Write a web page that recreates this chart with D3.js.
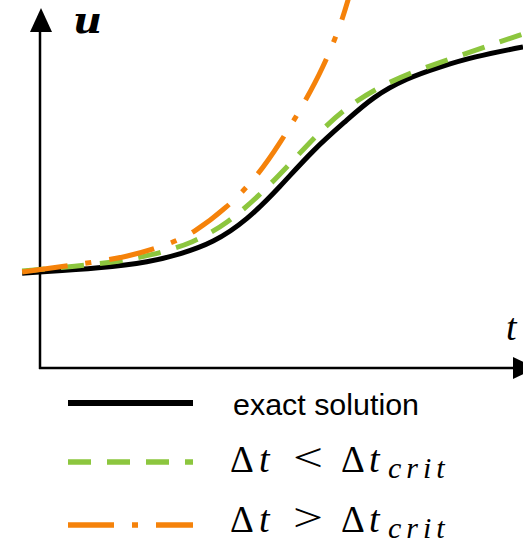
<!DOCTYPE html>
<html><head><meta charset="utf-8">
<script src="https://cdn.jsdelivr.net/npm/d3@7"></script>
<style>html,body{margin:0;padding:0;background:#fff;overflow:hidden}</style>
</head><body>
<script>
// Data (t, u)
const exactT = [-0.37, 0, 1.24, 2.28, 2.90, 3.58, 4.29, 4.97, 5.65, 6.36, 6.89, 7.60, 8.28, 8.96, 10.0];
const exactU = [2.65, 2.68, 2.79, 2.96, 3.18, 3.49, 4.13, 5.06, 6.09, 6.93, 7.57, 8.10, 8.41, 8.69, 8.97];
const stableT = [-0.37, 0.77, 1.59, 2.34, 3.17, 3.89, 4.55, 5.11, 5.73, 6.27, 7.00, 7.81, 8.55, 9.32, 10.0];
const stableU = [2.71, 2.85, 2.96, 3.16, 3.49, 4.05, 4.83, 5.61, 6.51, 7.21, 7.85, 8.32, 8.66, 9.02, 9.33];
const unstableT = [-0.37, 0.56, 1.86, 2.73, 3.17, 3.87, 4.49, 4.97, 5.45, 5.86, 6.21, 6.38, 6.55];
const unstableU = [2.68, 2.85, 3.10, 3.49, 3.77, 4.47, 5.34, 6.28, 7.35, 8.38, 9.53, 10.28, 11.1];
const legendLabels = ["exact solution", "Δt < Δt_crit", "Δt > Δt_crit"];

const W = 523, H = 545;
const svg = d3.select("body").append("svg").attr("width", W).attr("height", H);
const x = d3.scaleLinear().domain([0, 10]).range([40, 523]);
const y = d3.scaleLinear().domain([0, 10]).range([368, 10]);

const series = [
  {t: exactT, u: exactU, color: "#000000", dash: null, w: 5, lw: 6},
  {t: stableT, u: stableU, color: "#8cc63e", dash: "23 16", w: 5, lw: 5.5},
  {t: unstableT, u: unstableU, color: "#f5820a", dash: "46 18 6 18", w: 5, lw: 5.5}
];

// axes
const ax = svg.append("g");
ax.append("line").attr("x1", x(0)).attr("x2", x(0)).attr("y1", y(0) + 1).attr("y2", 30)
  .attr("stroke", "#000").attr("stroke-width", 2.5);
ax.append("path").attr("d", `M${x(0) + 1},8 L${x(0) - 10},32 L${x(0) + 12},32 Z`).attr("fill", "#000");
ax.append("line").attr("x1", x(0) - 1).attr("x2", 515).attr("y1", y(0)).attr("y2", y(0))
  .attr("stroke", "#000").attr("stroke-width", 2.5);
ax.append("path").attr("d", `M513,${y(0) - 11} L536,${y(0)} L513,${y(0) + 11} Z`).attr("fill", "#000");

svg.append("text").attr("x", 73).attr("y", 33)
  .attr("font-family", "'DejaVu Serif', serif").attr("font-style", "italic").attr("font-weight", "bold")
  .attr("font-size", 35).attr("textLength", 29).attr("lengthAdjust", "spacingAndGlyphs").text("u");
svg.append("text").attr("x", 506).attr("y", 340)
  .attr("font-family", "'Liberation Serif', serif").attr("font-style", "italic")
  .attr("font-size", 38).text("t");

// curves
const line = d3.line().x(d => x(d[0])).y(d => y(d[1])).curve(d3.curveBasis);
series.forEach(s => {
  const pts = s.t.map((t, i) => [t, s.u[i]]);
  svg.append("path").attr("d", line(pts)).attr("fill", "none")
    .attr("stroke", s.color).attr("stroke-width", s.w)
    .attr("stroke-dasharray", s.dash);
});

// legend
const legY = [403, 462, 525];
series.forEach((s, i) => {
  svg.append("line").attr("x1", 68).attr("x2", 193).attr("y1", legY[i]).attr("y2", legY[i])
    .attr("stroke", s.color).attr("stroke-width", s.lw).attr("stroke-dasharray", s.dash);
});
svg.append("text").attr("x", 233).attr("y", 415)
  .attr("font-family", "'Liberation Sans', Arial, sans-serif").attr("font-size", 29)
  .attr("textLength", 186).attr("lengthAdjust", "spacingAndGlyphs").text(legendLabels[0]);

function piece(g, px, yb, str, opts) {
  const t = g.append("text").attr("x", px).attr("y", yb)
    .attr("font-family", "'Liberation Serif', serif").attr("font-size", opts.size || 36)
    .text(str);
  if (opts.italic) t.attr("font-style", "italic");
  if (opts.len) t.attr("textLength", opts.len).attr("lengthAdjust", "spacingAndGlyphs");
  if (opts.ls) t.attr("letter-spacing", opts.ls);
  return t;
}
function mathLabel(yb, op) {
  const g = svg.append("g");
  piece(g, 230, yb, "Δ", {size: 37});
  piece(g, 259, yb, "t", {italic: true, size: 38});
  piece(g, 293, yb - 1, op, {size: 40, len: 30});
  piece(g, 341, yb, "Δ", {size: 37});
  piece(g, 369, yb, "t", {italic: true, size: 38});
  piece(g, 388, yb + 6, "crit", {italic: true, size: 30, ls: 5});
}
mathLabel(472, legendLabels[1].includes("<") ? "<" : ">");
mathLabel(532, legendLabels[2].includes(">") ? ">" : "<");
</script>
</body></html>
